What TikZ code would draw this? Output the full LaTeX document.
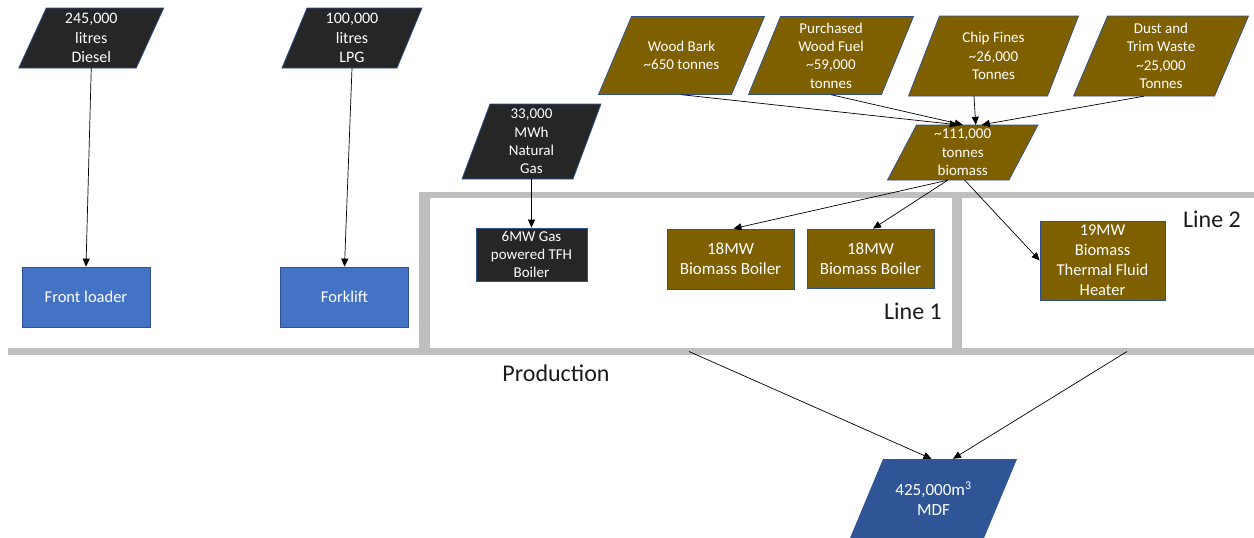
\documentclass[tikz,border=0pt]{standalone}
\usepackage{fontspec}
\setmainfont{Carlito}
\usetikzlibrary{arrows.meta}
\definecolor{brownfill}{HTML}{7F6000}
\definecolor{darkfill}{HTML}{262626}
\definecolor{bluefill}{HTML}{4472C4}
\definecolor{mdffill}{HTML}{2F5597}
\definecolor{edgeblue}{HTML}{2F528F}
\definecolor{framegray}{HTML}{BFBFBF}
\definecolor{labelgray}{HTML}{1A1A1A}
% name, cx, cy, w, h, slant, shape style, text style, text
\newcommand{\paragram}[9]{%
  \path[#7] (#2-#4/2+#6,#3-#5/2) -- (#2+#4/2+#6,#3-#5/2) -- (#2+#4/2-#6,#3+#5/2) -- (#2-#4/2-#6,#3+#5/2) -- cycle;
  \node[#8, minimum width=#4, minimum height=#5] (#1) at (#2,#3) {#9};}
\begin{document}
\begin{tikzpicture}[x=1pt,y=-1pt,
  darkp/.style={fill=darkfill, draw=edgeblue, line width=0.75pt},
  brownp/.style={fill=brownfill, draw=edgeblue, line width=0.75pt},
  mdfp/.style={fill=mdffill},
  txt/.style={text=white, inner sep=0pt, align=center},
  dtext/.style={txt, font=\fontsize{16}{19.5}\selectfont},
  ftext/.style={txt, font=\fontsize{15}{18.4}\selectfont},
  mtext/.style={txt, font=\fontsize{17}{20}\selectfont},
  boxbase/.style={draw=edgeblue, line width=0.75pt, txt},
  bluebox/.style={boxbase, fill=bluefill, minimum width=128, minimum height=60, font=\fontsize{16.5}{20}\selectfont},
  darkbox/.style={boxbase, fill=darkfill, font=\fontsize{15}{18}\selectfont},
  brownbox/.style={boxbase, fill=brownfill},
  lbl/.style={text=labelgray, inner sep=0pt, font=\fontsize{24}{28}\selectfont},
  conn/.style={draw=black, line width=0.7pt, -{Triangle[length=8pt,width=7pt]}}
]
\useasboundingbox (0,0) rectangle (1254,538);

% production frame
\fill[framegray] (419,192) rectangle (1254,198);
\fill[framegray] (8,348) rectangle (1254,355);
\fill[framegray] (419,192) rectangle (430,355);
\fill[framegray] (952,192) rectangle (962,355);

% fuel inputs
\paragram{diesel}{91.25}{38}{117.5}{60}{13.75}{darkp}{dtext}{245,000\\litres\\Diesel}
\paragram{lpg}{352}{38}{115}{60}{12.5}{darkp}{dtext}{100,000\\litres\\LPG}
\paragram{gas}{531.5}{141.5}{111}{75}{14}{darkp}{ftext}{33,000\\MWh\\Natural\\Gas}
\paragram{bark}{681.5}{55.5}{133}{78}{16.5}{brownp}{ftext}{Wood Bark\\\textasciitilde650 tonnes}
\paragram{purch}{831}{55.5}{133}{78}{16}{brownp}{ftext}{Purchased\\Wood Fuel\\\textasciitilde59,000\\tonnes}
\paragram{chip}{993.5}{56}{139}{80}{15.5}{brownp}{ftext}{Chip Fines\\\textasciitilde26,000\\Tonnes}
\paragram{dust}{1161}{56}{141}{80}{17}{brownp}{ftext}{Dust and\\Trim Waste\\\textasciitilde25,000\\Tonnes}
\paragram{bio}{962.75}{152.5}{121.5}{55}{14.5}{brownp}{ftext}{\textasciitilde111,000\\tonnes\\biomass}
\paragram{mdf}{933.5}{498.5}{134}{79}{16.5}{mdfp}{mtext}{425,000m\textsuperscript{3}\\MDF}

% consumers
\node[bluebox] (loader) at (86,297) {Front loader};
\node[bluebox] (forklift) at (344.5,297) {Forklift};
\node[darkbox, minimum width=111, minimum height=53] (gasb) at (531.5,254.5) {6MW Gas\\powered TFH\\Boiler};
\node[brownbox, minimum width=127, minimum height=60, font=\fontsize{17}{20}\selectfont] (b1) at (730.5,259) {18MW\\Biomass Boiler};
\node[brownbox, minimum width=127, minimum height=59, font=\fontsize{17}{20}\selectfont] (b2) at (870.5,258.5) {18MW\\Biomass Boiler};
\node[brownbox, minimum width=125, minimum height=79, font=\fontsize{16.5}{20}\selectfont] (heater) at (1102.5,260.5) {19MW\\Biomass\\Thermal Fluid\\Heater};

% labels
\node[lbl] (line1) at (913,311) {Line 1};
\node[lbl] (line2) at (1212,219) {Line 2};
\node[lbl] (prod) at (556,373) {Production};

\coordinate (p1) at (689,351.5);
\coordinate (p2) at (1127,351.5);

% connectors
\draw[conn] (diesel.south) -- (loader.north);
\draw[conn] (lpg.south) -- (forklift.north);
\draw[conn] (gas.south) -- (gasb.north);
\draw[conn] (bark.south) -- ([xshift=-5pt]bio.north);
\draw[conn] (purch.south) -- ([xshift=0pt]bio.north);
\draw[conn] ([xshift=-19.5pt]chip.south) -- ([xshift=13pt]bio.north);
\draw[conn] ([xshift=-17pt]dust.south) -- ([xshift=19pt]bio.north);
\draw[conn] ([xshift=-15pt]bio.south) -- ([xshift=3pt]b1.north);
\draw[conn] ([xshift=-15pt]bio.south) -- ([xshift=2.5pt]b2.north);
\draw[conn] ([xshift=2pt]bio.south) -- (heater.west);
\draw[conn] (p1) -- ([xshift=-2pt]mdf.north);
\draw[conn] (p2) -- ([xshift=19.5pt]mdf.north);
\end{tikzpicture}
\end{document}
